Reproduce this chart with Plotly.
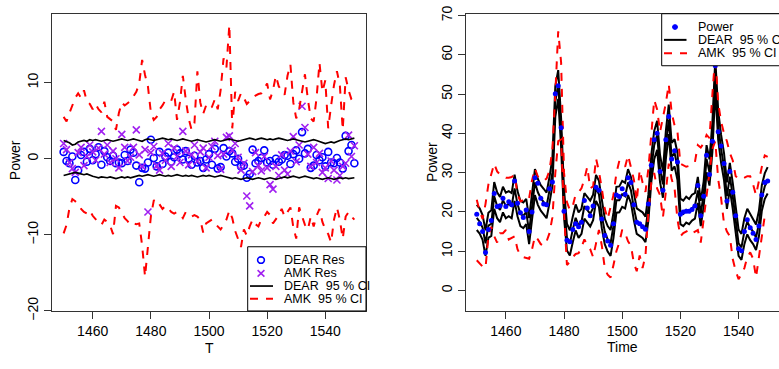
import plotly.graph_objects as go

T = list(range(1450, 1551))

# ---------------- left panel: residuals ----------------
dear_res = [0.9,-0.3,-0.6,0.3,-2.8,-1.5,0.5,0.9,-0.4,1.3,
            -0.2,0.6,1.5,-0.8,1.0,0.2,-0.3,0.4,-0.6,-0.5,
            -0.6,0.5,-0.3,1.2,0.8,-0.9,-3.1,-1.2,-1.3,-0.5,
            2.5,0.1,-1.0,0.9,-0.7,0.3,0.8,-0.4,0.2,1.2,
            0.7,-0.1,1.0,0.0,-0.8,0.4,-0.5,-0.3,-1.2,-0.1,
            0.6,-0.8,1.3,-1.3,-1.1,1.4,0.3,1.0,0.7,-0.4,
            0.0,-1.0,-0.9,-2.5,-2.0,1.2,-0.6,-0.3,0.1,1.1,
            -0.5,-0.3,-0.8,0.0,-0.4,-0.1,0.5,0.4,-0.7,0.6,
            1.1,0.0,3.5,0.7,1.3,-1.2,-0.9,0.5,-0.2,0.2,
            -1.0,0.9,-0.5,-0.6,0.1,-0.5,-1.3,3.0,1.0,1.8,
            -0.6]
amk_res = [2.0,1.2,-0.5,-1.3,-1.8,0.8,1.5,-0.9,0.3,1.8,
           0.9,-0.2,1.4,3.6,0.6,1.8,-0.5,1.0,0.0,-1.2,
           3.2,1.5,-0.3,0.2,1.5,3.8,0.5,-1.0,1.2,-7.0,
           0.8,1.6,-0.9,-1.5,0.7,-0.2,2.0,-1.0,1.4,0.3,
           -0.5,3.6,1.0,-0.8,0.5,1.8,-0.3,0.9,1.4,-1.2,
           0.2,1.6,2.3,0.4,-1.4,0.6,2.8,3.0,1.1,2.0,
           0.2,-1.5,-0.6,-4.9,-6.2,-1.7,0.8,-0.9,-1.6,0.3,
           -1.2,-3.4,-4.0,-1.0,-2.2,0.5,-1.5,-2.0,1.0,2.9,
           -0.4,1.8,6.9,4.1,0.6,-1.0,1.5,-0.5,0.7,-1.8,
           -1.2,-2.6,-0.3,-1.5,-2.8,-2.2,-1.0,-0.6,3.1,0.3,
           1.7]
dear_ci_up_res = [2.4,2.3,2.1,1.8,1.9,2.2,2.3,2.4,2.3,2.5,
                  2.4,2.5,2.4,2.3,2.4,2.5,2.4,2.3,2.4,2.5,
                  2.6,2.5,2.4,2.5,2.6,2.5,2.4,2.3,2.5,2.6,
                  2.5,2.4,2.5,2.6,2.7,2.6,2.5,2.6,2.5,2.4,
                  2.5,2.6,2.5,2.4,2.3,2.4,2.5,2.4,2.3,2.2,
                  2.3,2.4,2.5,2.4,2.3,2.4,2.5,2.6,2.5,2.4,
                  2.3,2.4,2.5,2.6,2.7,2.6,2.5,2.6,2.7,2.6,
                  2.5,2.6,2.5,2.6,2.7,2.6,2.5,2.4,2.5,2.6,
                  2.5,2.4,2.3,2.2,2.3,2.4,2.5,2.4,2.3,2.2,
                  2.0,2.1,2.2,2.1,2.3,2.4,2.5,2.6,2.5,2.6,
                  2.7]
dear_ci_lo_res = [-2.2,-2.1,-1.9,-1.8,-1.8,-1.9,-2.0,-2.1,-2.0,-2.2,
                  -2.3,-2.4,-2.5,-2.4,-2.5,-2.5,-2.4,-2.5,-2.6,-2.5,
                  -2.4,-2.5,-2.4,-2.5,-2.4,-2.3,-2.2,-2.3,-2.2,-2.1,
                  -2.2,-2.3,-2.2,-2.1,-2.2,-2.3,-2.2,-2.3,-2.2,-2.1,
                  -2.2,-2.3,-2.2,-2.3,-2.2,-2.3,-2.4,-2.3,-2.2,-2.3,
                  -2.2,-2.3,-2.4,-2.3,-2.2,-2.3,-2.4,-2.5,-2.6,-2.5,
                  -2.6,-2.7,-2.6,-2.5,-2.6,-2.7,-2.6,-2.5,-2.6,-2.7,
                  -2.6,-2.5,-2.6,-2.7,-2.6,-2.5,-2.4,-2.5,-2.4,-2.3,
                  -2.4,-2.5,-2.4,-2.3,-2.4,-2.5,-2.6,-2.5,-2.6,-2.7,
                  -2.6,-2.5,-2.6,-2.7,-2.6,-2.5,-2.6,-2.5,-2.6,-2.5,
                  -2.5]
amk_ci_up_res = [5.5,4.9,6.0,7.0,8.0,8.6,8.0,9.0,7.5,7.2,
                 6.5,7.2,6.5,6.1,7.5,5.5,5.2,4.9,3.8,6.0,
                 7.4,7.0,7.3,7.6,8.2,8.8,9.9,13.0,11.0,9.5,
                 6.1,5.1,5.5,6.5,7.0,7.7,7.6,7.6,8.8,5.1,
                 7.4,10.9,7.8,5.3,3.8,4.7,11.5,7.4,5.9,7.0,
                 6.5,6.8,7.8,6.5,9.0,13.2,12.0,17.6,4.0,8.8,
                 7.6,8.6,8.0,7.2,7.6,8.0,8.3,8.5,8.6,9.2,
                 9.9,7.8,9.0,10.9,9.5,9.0,8.4,10.9,12.4,7.4,
                 5.3,6.5,9.0,11.1,7.8,5.3,4.9,8.0,12.6,8.8,
                 10.3,4.0,7.0,9.7,11.5,9.7,3.8,10.7,9.0,7.8,
                 7.4]
amk_ci_lo_res = [-9.8,-8.7,-6.5,-5.3,-5.6,-6.0,-6.6,-7.0,-7.2,-6.8,
                 -7.5,-8.0,-8.4,-8.7,-8.0,-8.3,-8.8,-9.9,-6.2,-6.4,
                 -7.2,-7.8,-8.2,-8.7,-8.5,-8.6,-8.5,-11.4,-15.5,-11.0,
                 -7.6,-5.5,-5.3,-6.0,-6.6,-6.2,-6.5,-7.0,-7.2,-7.0,
                 -7.3,-7.8,-7.0,-7.3,-7.6,-7.4,-7.6,-8.0,-9.7,-8.5,
                 -8.2,-8.0,-8.5,-8.9,-9.3,-8.7,-8.0,-6.8,-7.8,-9.5,
                 -10.5,-11.6,-9.3,-10.1,-8.9,-8.0,-8.6,-8.9,-8.0,-7.6,
                 -7.0,-7.4,-8.5,-8.0,-7.4,-6.6,-7.6,-7.0,-6.4,-9.0,
                 -10.5,-6.4,-7.6,-8.7,-9.3,-7.6,-8.9,-7.5,-6.6,-8.3,
                 -9.3,-9.9,-11.0,-8.0,-6.4,-8.0,-10.5,-7.6,-7.0,-7.6,
                 -8.0]

# ---------------- right panel: power ----------------
power = [19.4,17.0,15.0,9.7,15.5,17.8,24.7,21.4,21.6,23.5,
         21.4,22.6,21.8,27.9,22.2,19.8,18.6,20.5,15.0,20.0,
         28.7,27.3,23.5,22.0,21.8,25.9,27.6,50.1,52.1,41.4,
         20.2,12.8,12.4,15.5,17.0,16.2,17.4,22.9,21.0,19.0,
         21.5,26.3,25.5,18.2,14.0,12.6,11.5,17.0,24.3,23.9,
         25.9,24.5,28.7,27.5,21.8,17.4,17.0,16.2,15.6,22.0,
         31.9,38.4,40.0,30.3,25.5,38.4,44.3,33.5,35.6,32.7,
         19.4,20.0,20.2,20.2,20.6,21.5,26.7,19.0,24.0,34.4,
         29.5,38.0,57.2,40.4,36.8,32.3,22.8,30.3,25.0,19.0,
         10.6,10.1,15.0,18.0,16.0,14.6,13.0,16.4,24.3,27.5,
         27.9]
dear_mid = [18.5,17.5,16.0,12.0,16.5,17.0,24.0,21.5,20.5,23.0,
            21.5,22.0,21.5,26.0,22.0,19.5,19.0,20.0,15.0,21.0,
            27.5,25.0,23.5,22.5,21.5,25.5,30.0,48.0,52.5,40.0,
            22.0,13.5,12.0,15.5,18.5,16.5,17.5,21.5,20.5,19.5,
            21.0,26.0,24.5,19.0,15.0,13.0,12.0,16.5,23.0,23.0,
            24.5,24.0,27.5,25.5,21.0,17.5,17.0,16.5,15.5,21.0,
            31.0,37.0,39.5,31.0,27.0,37.0,43.5,34.0,35.0,31.5,
            20.0,19.5,20.5,20.0,21.0,21.5,25.5,19.5,24.5,33.5,
            30.0,39.0,55.0,42.0,36.0,31.5,24.0,29.0,24.0,18.0,
            12.0,11.0,15.0,17.5,16.0,15.0,13.5,17.0,23.5,26.5,
            28.0]
dear_up = [21.8,20.9,19.2,15.3,19.8,20.4,27.6,25.0,23.8,26.4,
           24.9,25.3,24.8,29.5,25.3,22.8,22.4,23.3,18.4,24.3,
           30.9,28.4,26.8,25.9,24.9,28.9,33.6,52.0,56.1,43.8,
           25.6,17.0,15.3,18.8,21.9,19.9,20.8,24.8,23.9,22.9,
           24.4,29.4,27.9,22.4,18.3,16.4,15.4,19.8,26.4,26.5,
           27.9,27.4,30.9,28.9,24.4,20.9,20.4,19.9,18.8,24.4,
           34.5,40.6,43.2,34.5,30.4,40.6,47.3,37.6,38.5,35.0,
           23.4,22.9,23.9,23.3,24.4,24.8,28.9,22.8,27.8,37.0,
           33.4,42.8,59.0,45.8,39.6,35.0,27.5,32.5,27.4,21.4,
           15.5,14.4,18.4,20.8,19.4,18.3,16.8,20.3,26.8,29.8,
           31.4]
dear_lo = [15.4,14.5,12.9,8.8,13.4,13.9,20.8,18.4,17.4,19.9,
           18.4,18.9,18.4,22.8,18.9,16.4,15.9,16.9,11.8,17.9,
           24.3,21.8,20.3,19.4,18.4,22.3,26.6,44.2,48.8,36.4,
           18.6,10.2,8.9,12.3,15.3,13.4,14.4,18.3,17.4,16.3,
           17.9,22.8,21.3,15.8,11.8,9.9,8.8,13.4,19.8,19.9,
           21.3,20.9,24.3,22.3,17.9,14.4,13.9,13.4,12.3,17.8,
           27.6,33.4,35.8,27.6,23.6,33.4,39.8,30.5,31.6,28.1,
           16.9,16.4,17.3,16.9,17.8,18.3,22.3,16.4,21.3,30.1,
           26.7,35.3,51.0,38.3,32.5,28.1,20.8,25.8,20.8,14.8,
           8.8,7.8,11.8,14.3,12.8,11.8,10.3,13.8,20.3,23.3,
           24.7]
amk_up = [23.1,20.2,18.2,22.0,27.0,30.0,32.3,30.3,29.5,29.1,
          28.7,28.7,28.9,29.5,24.5,22.7,23.0,22.7,23.5,28.0,
          31.1,29.0,28.3,27.9,28.5,30.5,36.0,50.0,66.0,58.0,
          30.0,22.5,20.5,21.5,24.5,25.0,26.0,28.3,31.5,26.0,
          26.5,33.6,30.3,25.9,20.8,18.2,21.0,24.3,29.9,33.0,
          32.5,31.5,34.4,31.5,28.3,22.7,30.7,27.5,25.1,31.0,
          38.8,48.5,46.1,40.4,44.0,47.7,52.5,45.3,42.0,40.4,
          32.3,31.8,31.5,31.7,32.0,32.7,37.0,36.4,37.5,39.6,
          38.8,50.0,60.0,47.7,43.0,40.0,38.0,35.0,33.1,29.1,
          28.5,28.3,28.8,29.1,29.1,27.0,24.3,28.0,31.5,34.4,
          34.0]
amk_lo = [7.7,6.9,6.1,5.7,13.8,16.2,13.8,12.2,14.6,14.6,
          15.4,13.0,13.5,13.8,10.5,8.9,8.5,8.3,8.1,10.5,
          13.8,13.0,11.8,11.4,12.5,14.6,18.6,29.9,38.0,38.4,
          20.0,6.5,7.3,8.5,9.3,9.5,11.0,13.0,11.5,10.5,
          8.5,12.0,15.4,11.4,5.7,4.0,3.3,6.5,10.0,12.2,
          15.5,14.6,12.5,11.4,7.0,4.9,8.9,5.7,8.9,20.0,
          27.5,29.9,26.0,24.3,18.6,25.1,32.3,28.3,26.0,18.0,
          13.8,14.6,15.0,15.4,14.6,15.0,15.4,12.2,18.0,24.3,
          30.0,36.0,38.0,28.3,23.5,17.0,15.0,13.8,8.0,5.0,
          2.9,4.1,5.7,8.5,9.7,8.1,3.3,8.0,13.8,19.0,
          20.0]

x_ticks = [1460, 1480, 1500, 1520, 1540]
y_ticks_left = [-20, -10, 0, 10]
y_ticks_right = [0, 10, 20, 30, 40, 50, 60, 70]
legend_left_labels = ["DEAR Res", "AMK Res", "DEAR\u00a0 95 % CI", "AMK\u00a0 95 % CI"]
legend_right_labels = ["Power", "DEAR\u00a0 95 % CI", "AMK\u00a0 95 % CI"]

FONT = "Liberation Sans, Arial, Helvetica, sans-serif"
BLUE = "#0000FF"
PURPLE = "#A020F0"
RED = "#FF0000"
DASH = "8px,8px"
W, H = 779, 369


def px(x):
    return x / W


def py(y):
    return 1 - y / H


fig = go.Figure()

# left panel
fig.add_trace(go.Scatter(x=T, y=dear_res, mode="markers", name="DEAR Res",
                         marker=dict(symbol="circle-open", size=7, color=BLUE, line=dict(width=1.6, color=BLUE)),
                         xaxis="x", yaxis="y"))
fig.add_trace(go.Scatter(x=T, y=amk_res, mode="markers", name="AMK Res",
                         marker=dict(symbol="x-thin-open", size=7, color=PURPLE, line=dict(width=1.6, color=PURPLE)),
                         xaxis="x", yaxis="y"))
fig.add_trace(go.Scatter(x=T, y=dear_ci_up_res, mode="lines", name="DEAR 95 % CI",
                         line=dict(color="black", width=1.7), xaxis="x", yaxis="y"))
fig.add_trace(go.Scatter(x=T, y=dear_ci_lo_res, mode="lines", name="DEAR 95 % CI",
                         line=dict(color="black", width=1.7), xaxis="x", yaxis="y"))
fig.add_trace(go.Scatter(x=T, y=amk_ci_up_res, mode="lines", name="AMK 95 % CI",
                         line=dict(color=RED, width=2, dash=DASH), xaxis="x", yaxis="y"))
fig.add_trace(go.Scatter(x=T, y=amk_ci_lo_res, mode="lines", name="AMK 95 % CI",
                         line=dict(color=RED, width=2, dash=DASH), xaxis="x", yaxis="y"))

# right panel
fig.add_trace(go.Scatter(x=T, y=dear_mid, mode="lines", name="DEAR 95 % CI",
                         line=dict(color="black", width=2), xaxis="x2", yaxis="y2"))
fig.add_trace(go.Scatter(x=T, y=dear_up, mode="lines", name="DEAR 95 % CI",
                         line=dict(color="black", width=2), xaxis="x2", yaxis="y2"))
fig.add_trace(go.Scatter(x=T, y=dear_lo, mode="lines", name="DEAR 95 % CI",
                         line=dict(color="black", width=2), xaxis="x2", yaxis="y2"))
fig.add_trace(go.Scatter(x=T, y=amk_up, mode="lines", name="AMK 95 % CI",
                         line=dict(color=RED, width=2, dash=DASH), xaxis="x2", yaxis="y2"))
fig.add_trace(go.Scatter(x=T, y=amk_lo, mode="lines", name="AMK 95 % CI",
                         line=dict(color=RED, width=2, dash=DASH), xaxis="x2", yaxis="y2"))
fig.add_trace(go.Scatter(x=T, y=power, mode="markers", name="Power",
                         marker=dict(symbol="circle", size=5, color=BLUE),
                         xaxis="x2", yaxis="y2"))
fig.update_traces(showlegend=False)

axcol = "#333333"
common_x = dict(ticks="outside", ticklen=7, tickcolor=axcol, tickwidth=1, showline=True, linecolor=axcol,
                linewidth=1, showgrid=False, zeroline=False, tickvals=x_ticks, ticklabeloverflow="allow",
                tickfont=dict(family=FONT, size=14, color="black"))
common_y = dict(ticks="outside", ticklen=7, tickcolor=axcol, tickwidth=1, showline=True, linecolor=axcol,
                linewidth=1, showgrid=False, zeroline=False, tickangle=-90, ticklabeloverflow="allow",
                tickfont=dict(family=FONT, size=14, color="black"))

# ---- legends (boxes, keys and labels in page coordinates) ----
shapes = []
annotations = []
LFONT = dict(family=FONT, size=12.5, color="black")

# left legend
shapes.append(dict(type="rect", xref="paper", yref="paper", x0=px(247.7), x1=px(366), y0=py(251), y1=py(318.5),
                   line=dict(color="black", width=1), fillcolor="white", layer="above"))
shapes.append(dict(type="circle", xref="paper", yref="paper", x0=px(257.6), x1=px(264.4), y0=py(261.6), y1=py(268.4),
                   line=dict(color=BLUE, width=1.6), layer="above"))
shapes.append(dict(type="line", xref="paper", yref="paper", x0=px(257.6), x1=px(264.4), y0=py(275.6), y1=py(282.4),
                   line=dict(color=PURPLE, width=1.6), layer="above"))
shapes.append(dict(type="line", xref="paper", yref="paper", x0=px(257.6), x1=px(264.4), y0=py(282.4), y1=py(275.6),
                   line=dict(color=PURPLE, width=1.6), layer="above"))
shapes.append(dict(type="line", xref="paper", yref="paper", x0=px(250), x1=px(273), y0=py(292.3), y1=py(292.3),
                   line=dict(color="black", width=1.7), layer="above"))
shapes.append(dict(type="line", xref="paper", yref="paper", x0=px(250), x1=px(273), y0=py(305.7), y1=py(305.7),
                   line=dict(color=RED, width=2, dash=DASH), layer="above"))
for lab, yy in zip(legend_left_labels, [265, 279, 292.3, 305.7]):
    annotations.append(dict(text=lab, x=px(281.7), y=py(yy), xref="paper", yref="paper", showarrow=False,
                            xanchor="left", yanchor="middle", font=LFONT))

# right legend
shapes.append(dict(type="rect", xref="paper", yref="paper", x0=px(661.7), x1=px(800), y0=py(6), y1=py(60.7),
                   line=dict(color="black", width=1), fillcolor="white", layer="above"))
shapes.append(dict(type="circle", xref="paper", yref="paper", x0=px(672.5), x1=px(677.5), y0=py(17.5), y1=py(22.5),
                   line=dict(color=BLUE, width=1), fillcolor=BLUE, layer="above"))
shapes.append(dict(type="line", xref="paper", yref="paper", x0=px(664), x1=px(686.5), y0=py(33.5), y1=py(33.5),
                   line=dict(color="black", width=2), layer="above"))
shapes.append(dict(type="line", xref="paper", yref="paper", x0=px(664), x1=px(687), y0=py(47.5), y1=py(47.5),
                   line=dict(color=RED, width=2, dash=DASH), layer="above"))
for lab, yy in zip(legend_right_labels, [20, 33.5, 47.5]):
    annotations.append(dict(text=lab, x=px(696), y=py(yy), xref="paper", yref="paper", showarrow=False,
                            xanchor="left", yanchor="middle", font=LFONT))

# axis titles
TFONT = dict(family=FONT, size=14, color="black")
annotations += [
    dict(text="T", x=px(209), y=py(357), xref="paper", yref="paper", showarrow=False,
         font=TFONT, xanchor="center", yanchor="middle"),
    dict(text="Time", x=px(622), y=py(356), xref="paper", yref="paper", showarrow=False,
         font=TFONT, xanchor="center", yanchor="middle"),
    dict(text="Power", x=px(15), y=py(160), xref="paper", yref="paper", showarrow=False, textangle=-90,
         font=TFONT, xanchor="center", yanchor="middle"),
    dict(text="Power", x=px(432), y=py(162), xref="paper", yref="paper", showarrow=False, textangle=-90,
         font=TFONT, xanchor="center", yanchor="middle"),
]

fig.update_layout(
    width=W, height=H, autosize=False,
    margin=dict(l=0, r=0, t=0, b=0),
    paper_bgcolor="white", plot_bgcolor="white",
    font=dict(family=FONT, color="black"),
    showlegend=False,
    hovermode=False,
    xaxis=dict(domain=[px(52), px(366)], range=[1446, 1554], anchor="y", mirror=True, **common_x),
    yaxis=dict(domain=[py(318.6), py(6)], range=[-20.02, 19.06], anchor="x", mirror=True,
               tickvals=y_ticks_left, **common_y),
    xaxis2=dict(domain=[px(466), 1.0], range=[1446.3, 1553.9], anchor="y2", mirror=True, **common_x),
    yaxis2=dict(domain=[py(319), py(6)], range=[-5.33, 70.46], anchor="x2", mirror=False,
                tickvals=y_ticks_right, **common_y),
    shapes=shapes,
    annotations=annotations,
)

fig.write_html("out.html", config={"displayModeBar": False, "staticPlot": True},
               post_script="document.body.style.margin='0';document.body.style.padding='0';")
